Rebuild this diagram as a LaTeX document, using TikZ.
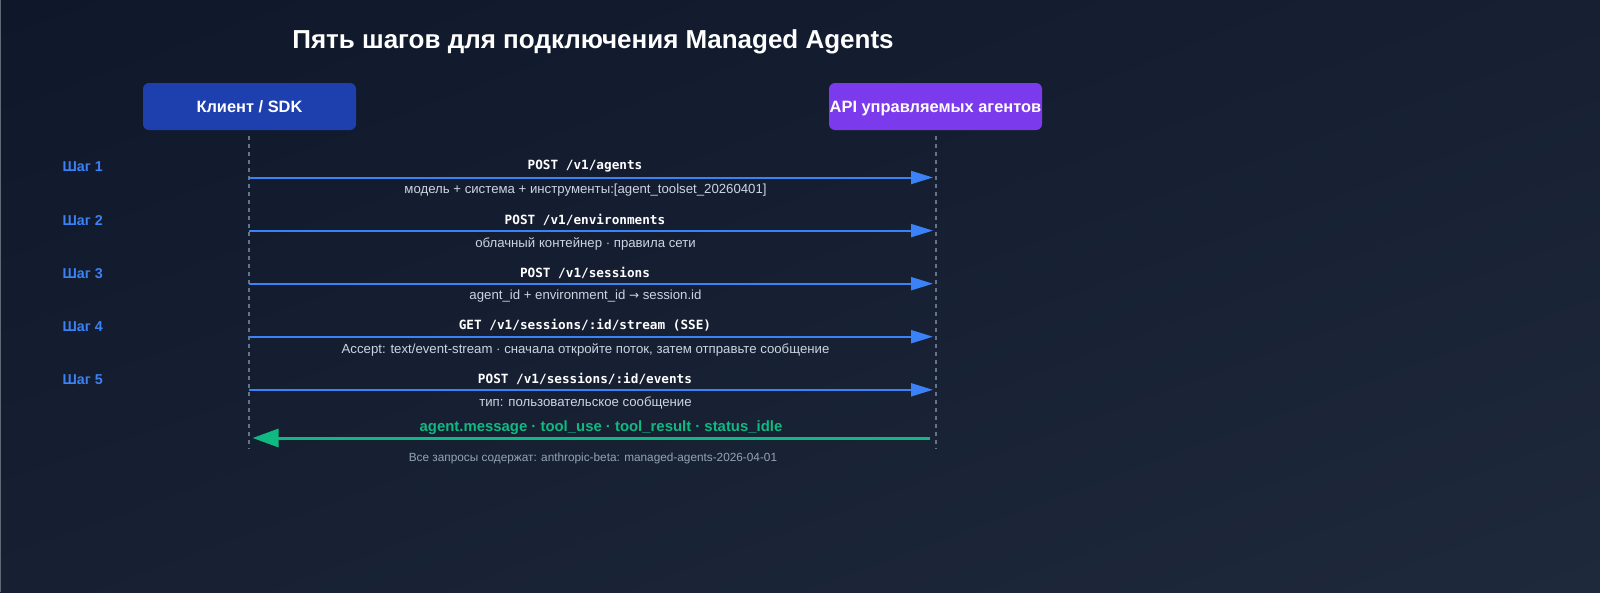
\documentclass[tikz,border=0pt]{standalone}
\usepackage{fontspec}
\setmainfont{Liberation Sans}
\setmonofont{DejaVu Sans Mono}
\newfontfamily\symfnt{DejaVu Sans}
\usetikzlibrary{arrows.meta,shadings}
\definecolor{bgA}{HTML}{0F172A}
\definecolor{bgB}{HTML}{1E293B}
\definecolor{bgM}{HTML}{172033}
\definecolor{clientc}{HTML}{1E40AF}
\definecolor{apic}{HTML}{7C3AED}
\definecolor{stepc}{HTML}{3B82F6}
\definecolor{greenc}{HTML}{10B981}
\definecolor{subc}{HTML}{CBD5E1}
\definecolor{footc}{HTML}{94A3B8}
\definecolor{lifec}{HTML}{64748B}
\tikzset{
  actor/.style={rounded corners=6pt, minimum width=213pt, minimum height=47pt, inner sep=0pt, text height=11.5pt, text depth=0pt, text=white, font=\bfseries\fontsize{16.4}{18}\selectfont},
  lifeline/.style={draw=lifec, line width=2pt, dash pattern=on 4pt off 4pt},
  req/.style={draw=stepc, line width=2pt, -{Triangle[length=22pt,width=13pt]}},
  resp/.style={draw=greenc, line width=3pt, -{Triangle[length=26pt,width=18pt]}},
  steplbl/.style={text=stepc, font=\bfseries\fontsize{14.3}{16}\selectfont, anchor=west},
  reqlbl/.style={text=white, font=\ttfamily\bfseries\fontsize{12.7}{14}\selectfont},
  sublbl/.style={text=subc, font=\fontsize{13.2}{15}\selectfont},
  resplbl/.style={text=greenc, font=\bfseries\fontsize{14.9}{17}\selectfont},
  footlbl/.style={text=footc, font=\fontsize{11.8}{13}\selectfont},
}
\begin{document}
\begin{tikzpicture}[x=1pt,y=-1pt]
\useasboundingbox (0,0) rectangle (1600,592);
\shade[upper left=bgA, lower right=bgB, upper right=bgM, lower left=bgM] (0,0) rectangle (1600,592);
\draw[bgB!70!white, line width=0.8pt] (0.4,0) -- (0.4,592);
\node[text=white, font=\bfseries\fontsize{26}{30}\selectfont] (title) at (593,41.5) {Пять шагов для подключения Managed Agents};
\node[actor, fill=clientc] (client) at (249.5,106.5) {Клиент / SDK};
\node[actor, fill=apic] (api) at (935.5,106.5) {API управляемых агентов};
\coordinate (ct) at (249,136);
\coordinate (cb) at (249,449);
\coordinate (at) at (936,136);
\coordinate (ab) at (936,449);
\draw[lifeline] (ct) -- (cb);
\draw[lifeline] (at) -- (ab);
% steps
\foreach \i/\y in {1/177.5,2/230.6,3/283.7,4/336.7,5/389.8}{
  \coordinate (c\i) at (249,\y);
  \coordinate (a\i) at (933,\y);
  \draw[req] (c\i) -- (a\i);
  \node[steplbl] (s\i) at (59,\y-10.5) {Шаг \i};
}
\node[reqlbl] (r1) at (585,166) {POST /v1/agents};
\node[sublbl] (u1) at (585.5,190.5) {модель + система + инструменты:[agent\_toolset\_20260401]};
\node[reqlbl] (r2) at (585,219.5) {POST /v1/environments};
\node[sublbl] (u2) at (585.5,243.5) {облачный контейнер · правила сети};
\node[reqlbl] (r3) at (585,272.5) {POST /v1/sessions};
\node[sublbl] (u3) at (585.5,296.5) {agent\_id + environment\_id {\symfnt\fontsize{12}{15}\selectfont →} session.id};
\node[reqlbl] (r4) at (585,325.5) {GET /v1/sessions/:id/stream (SSE)};
\node[sublbl] (u4) at (585.5,349.5) {Accept: text/event-stream · сначала откройте поток, затем отправьте сообщение};
\node[reqlbl] (r5) at (585,378.5) {POST /v1/sessions/:id/events};
\node[sublbl] (u5) at (585.5,402.5) {тип: пользовательское сообщение};
\coordinate (a6) at (930,438);
\coordinate (c6) at (252.5,438);
\draw[resp] (a6) -- (c6);
\node[resplbl] (r6) at (601,427.5) {agent.message · tool\_use · tool\_result · status\_idle};
\node[footlbl] (foot) at (593,458.5) {Все запросы содержат: anthropic-beta: managed-agents-2026-04-01};
\end{tikzpicture}
\end{document}
